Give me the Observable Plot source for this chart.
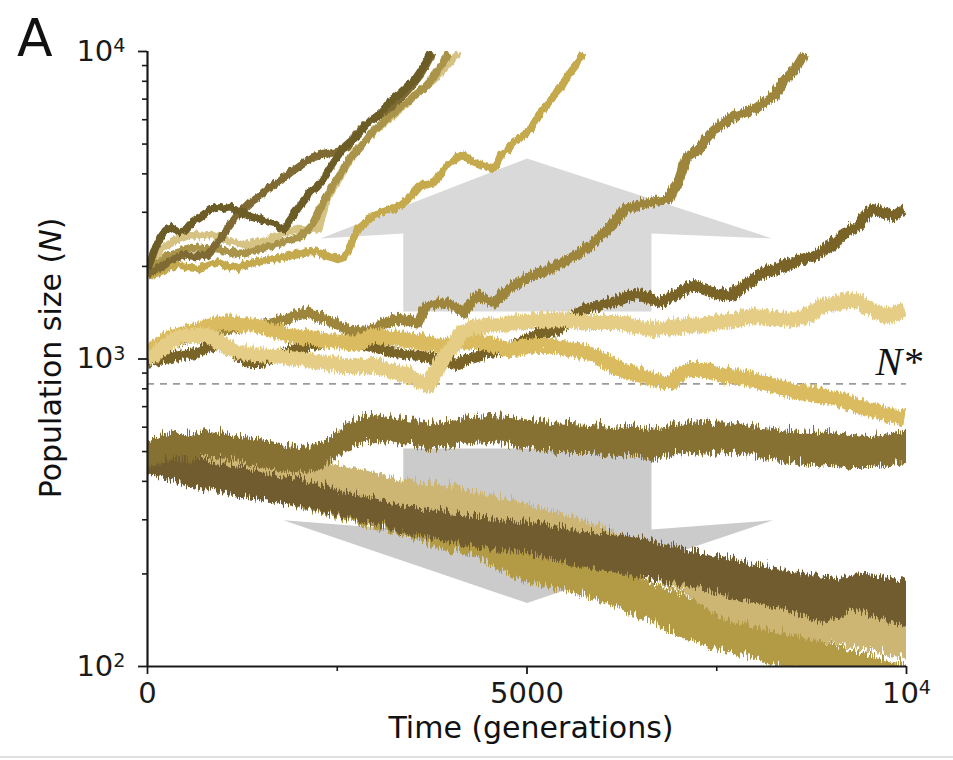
<!DOCTYPE html>
<html><head><meta charset="utf-8">
<script src="https://cdn.jsdelivr.net/npm/d3@7"></script>
<script src="https://cdn.jsdelivr.net/npm/@observablehq/plot@0.6"></script>
<style>body{margin:0;background:#fff;} svg{display:block;}</style>
</head><body><div id="chart"></div>
<script>
// ---------- data (time in generations, population size N) ----------
const nStar = [830];
const yMajor = [100, 1000, 10000];
const yExp = ["2", "3", "4"];
const yMinor = [200,300,400,500,600,700,800,900,2000,3000,4000,5000,6000,7000,8000,9000];
const xMajor = [0, 5000, 10000];
const xMinor = [2500, 7500];

// gray guide arrows (polygon vertices)
const upArrow = [[2280,2466],[5000,4487],[8230,2466],[6640,2559],[6640,1427],[3370,1427],[3370,2559]];
const downArrow = [[3370,512],[6640,512],[6640,279],[8240,299],[5000,161],[1790,299],[3370,279]];

// upper group trajectories [t, N]
const U1 = [[0,1985],[106,2339],[172,2521],[237,2657],[303,2718],[409,2617],[501,2657],[594,2821],[699,2929],[792,3040],[897,3157],[990,3110],[1095,3157],[1187,3040],[1293,2995],[1385,2929],[1491,2885],[1583,2821],[1689,2779],[1794,2657],[1873,2864],[1953,3040],[2045,3277],[2150,3532],[2230,3666],[2309,3863],[2388,4164],[2454,4421],[2546,4765],[2612,5020],[2691,5214],[2771,5413],[2863,5746],[2942,6056],[3021,6240],[3100,6527],[3180,6929],[3272,7194],[3351,7468],[3443,7866],[3522,8228],[3602,8806],[3668,9348],[3730,10000]];
const U2 = [[0,1911],[106,1969],[237,2060],[369,2155],[475,2204],[633,2171],[792,2204],[884,2339],[963,2484],[1055,2697],[1161,2929],[1253,3086],[1359,3277],[1491,3453],[1623,3666],[1755,3863],[1887,4102],[2019,4322],[2190,4590],[2322,4696],[2454,4765],[2546,4837],[2639,4947],[2718,5293],[2810,5662],[2902,5921],[3008,6193],[3114,6429],[3206,6675],[3312,7087],[3404,7468],[3496,7925],[3602,8548],[3681,9210],[3760,10000]];
const U3 = [[0,1969],[80,2123],[172,2287],[277,2392],[369,2466],[541,2559],[699,2540],[858,2559],[990,2484],[1121,2429],[1293,2375],[1464,2429],[1649,2484],[1821,2617],[1992,2677],[2124,2657],[2256,2677],[2309,2995],[2375,3402],[2454,3666],[2546,4010],[2639,4355],[2718,4765],[2810,4985],[2902,5253],[2982,5535],[3074,5832],[3166,6056],[3245,6287],[3338,6574],[3430,6929],[3509,7302],[3602,7580],[3694,7925],[3773,8228],[3866,8675],[3958,9210],[4024,9564],[4103,10000]];
const U4 = [[0,1969],[106,2060],[237,2171],[396,2253],[567,2322],[739,2305],[897,2287],[1069,2253],[1227,2220],[1385,2270],[1557,2339],[1689,2375],[1794,2429],[1913,2484],[2019,2521],[2098,2637],[2177,2779],[2256,3040],[2348,3376],[2454,3749],[2573,4164],[2678,4590],[2784,4872],[2889,5253],[2995,5618],[3100,5965],[3206,6287],[3312,6574],[3417,6929],[3522,7302],[3628,7636],[3734,8167],[3813,8675],[3892,9277],[3971,10000]];
const U5 = [[0,1911],[106,1911],[237,1969],[409,2045],[541,1999],[673,1985],[805,2045],[937,2091],[1069,2014],[1201,1985],[1319,2060],[1425,2091],[1557,2123],[1728,2139],[1913,2204],[2045,2237],[2177,2253],[2282,2220],[2388,2187],[2507,2139],[2586,2171],[2639,2253],[2705,2466],[2771,2677],[2876,2821],[2982,2973],[3114,3040],[3245,3110],[3338,3205],[3430,3351],[3522,3532],[3602,3721],[3694,3749],[3773,3806],[3866,4040],[3958,4322],[4037,4487],[4129,4659],[4208,4590],[4288,4421],[4393,4322],[4486,4259],[4565,4195],[4618,4421],[4657,4659],[4750,4837],[4829,5136],[4921,5332],[5053,5662],[5119,6056],[5185,6429],[5277,6825],[5356,7302],[5449,7752],[5541,8481],[5607,8906],[5673,9348],[5739,10000]];

// middle group trajectories [t, N]
const M1 = [[0,1050],[132,1082],[264,1131],[435,1167],[633,1211],[831,1238],[1029,1266],[1227,1285],[1425,1315],[1623,1334],[1821,1375],[1979,1417],[2111,1438],[2243,1396],[2375,1365],[2507,1315],[2639,1266],[2771,1257],[2902,1257],[3074,1315],[3245,1365],[3404,1355],[3562,1334],[3628,1438],[3694,1515],[3826,1550],[3958,1550],[4063,1493],[4169,1438],[4261,1550],[4354,1633],[4459,1585],[4565,1550],[4657,1633],[4750,1708],[4855,1773],[4961,1841],[5093,1911],[5277,1985],[5449,2091],[5620,2204],[5752,2305],[5884,2429],[6016,2617],[6148,2821],[6280,3110],[6438,3205],[6597,3277],[6728,3328],[6860,3351],[6926,3586],[6992,3806],[7058,4259],[7124,4659],[7256,4872],[7362,5253],[7467,5662],[7599,5965],[7731,6287],[7863,6429],[7995,6574],[8127,6929],[8259,7302],[8325,7752],[8391,8228],[8523,8873],[8589,9348],[8655,10000]];
const M2 = [[0,989],[145,1011],[303,1026],[475,1050],[633,1066],[805,1106],[963,1149],[1095,1082],[1227,1026],[1359,989],[1491,989],[1623,1018],[1755,1050],[1887,1082],[2019,1106],[2150,1131],[2282,1149],[2441,1167],[2612,1167],[2784,1149],[2942,1123],[3100,1090],[3272,1066],[3443,1050],[3602,1042],[3760,1018],[3905,1011],[4063,974],[4169,1004],[4261,1026],[4393,1050],[4525,1066],[4657,1082],[4789,1106],[4921,1149],[5053,1193],[5211,1238],[5383,1257],[5541,1334],[5673,1438],[5805,1493],[5937,1515],[6069,1550],[6240,1585],[6399,1645],[6544,1633],[6662,1573],[6768,1550],[6873,1609],[6992,1670],[7098,1721],[7203,1760],[7335,1721],[7467,1670],[7586,1645],[7691,1633],[7797,1708],[7916,1800],[8021,1869],[8127,1940],[8259,1985],[8391,2045],[8510,2091],[8615,2139],[8707,2171],[8787,2204],[8905,2287],[9011,2375],[9103,2484],[9182,2617],[9274,2677],[9367,2760],[9446,2929],[9538,3110],[9631,3086],[9710,3040],[9776,2995],[9842,2973],[9908,3063],[9974,3110]];
const M3 = [[0,1011],[132,1066],[264,1131],[369,1184],[475,1211],[633,1211],[792,1211],[963,1149],[1095,1090],[1227,1066],[1425,1050],[1662,1042],[1887,1026],[2111,1011],[2322,989],[2546,967],[2771,967],[2982,967],[3206,931],[3430,897],[3562,864],[3694,832],[3773,903],[3866,989],[3958,1066],[4037,1123],[4129,1238],[4261,1285],[4459,1305],[4657,1315],[4921,1334],[5145,1355],[5356,1365],[5581,1355],[5805,1334],[6016,1334],[6240,1334],[6464,1285],[6676,1266],[6900,1285],[7124,1305],[7335,1315],[7559,1334],[7784,1365],[7995,1406],[8219,1385],[8444,1365],[8707,1406],[8879,1515],[9103,1550],[9314,1585],[9433,1526],[9538,1471],[9670,1427],[9763,1406],[9868,1438],[9974,1482]];
const M4 = [[0,1066],[132,1123],[264,1184],[475,1238],[699,1275],[1003,1334],[1227,1315],[1451,1305],[1662,1257],[1887,1211],[2111,1193],[2322,1175],[2546,1158],[2771,1149],[2982,1211],[3206,1193],[3430,1175],[3641,1149],[3866,1123],[4090,1149],[4301,1175],[4525,1131],[4750,1090],[4921,1106],[5145,1123],[5356,1123],[5581,1090],[5805,1066],[6016,1004],[6240,938],[6464,904],[6676,871],[6794,851],[6900,851],[7005,904],[7124,938],[7335,938],[7559,897],[7784,884],[7995,871],[8219,838],[8444,808],[8655,790],[8879,773],[9103,750],[9314,722],[9538,695],[9763,670],[9974,651]];

// lower group: noisy bands [t, N low, N high]
const L1 = [[0,461,556],[170,475,577],[370,486,599],[570,479,585],[770,497,608],[960,490,594],[1230,475,577],[1490,461,560],[1760,447,543],[2020,434,531],[2220,443,539],[2380,468,560],[2510,497,603],[2640,523,636],[2810,543,660],[3010,556,675],[3270,543,660],[3540,531,650],[3800,515,631],[4000,535,650],[4260,543,665],[4530,547,670],[4790,535,665],[5050,523,650],[5320,511,636],[5580,504,631],[5850,504,626],[6110,493,617],[6370,497,626],[6640,482,608],[6900,497,622],[7160,508,641],[7430,500,631],[7690,504,636],[7960,493,622],[8220,482,613],[8480,475,603],[8750,464,594],[9010,468,599],[9270,457,585],[9540,457,581],[9800,468,590],[10000,475,599]];
const L2 = [[0,440,551],[370,461,560],[790,457,556],[1230,440,535],[1660,424,515],[2110,403,493],[2550,382,468],[2980,360,440],[3430,339,412],[3870,327,397],[4300,313,382],[4750,298,360],[5190,281,339],[5580,257,317],[5980,235,294],[6370,213,272],[6770,190,247],[7160,174,230],[7560,147,205],[7960,139,193],[8350,133,183],[8750,126,174],[9140,120,166],[9540,115,160],[10000,109,150]];
const L3 = [[0,434,556],[370,409,515],[790,382,479],[1230,368,461],[1660,354,434],[2110,334,412],[2550,315,382],[2980,298,366],[3430,277,339],[3870,263,327],[4300,251,315],[4750,242,306],[5190,233,298],[5810,216,283],[6240,205,277],[6680,195,263],[7120,186,247],[7560,177,233],[8000,166,221],[8440,156,211],[8880,141,203],[9100,147,198],[9310,156,205],[9540,150,203],[9760,143,198],[10000,139,195]];
const L4 = [[0,434,523],[790,388,468],[1660,354,428],[2550,310,374],[3430,272,334],[3870,247,317],[4300,235,298],[4920,195,267],[5360,183,247],[5810,173,233],[6240,158,213],[6680,141,190],[7120,126,174],[7560,115,160],[8000,109,147],[8440,102,134],[8880,96,124],[9310,96,115],[9670,96,109],[10000,96,105]];

// ---------- drawing ----------
const font = "DejaVu Sans, Verdana, sans-serif";
const ln = (data, color, w) => Plot.line(data, {x: d => d[0], y: d => d[1], stroke: color, strokeWidth: w, strokeLinejoin: "round", strokeLinecap: "butt", clip: true});
const band = (data, color) => Plot.areaY(data, {x: d => d[0], y1: d => d[1], y2: d => d[2], fill: color, clip: true});

const chart = Plot.plot({
  width: 953, height: 760,
  marginLeft: 147, marginRight: 47, marginTop: 51, marginBottom: 94,
  style: {fontFamily: font, background: "#fff", overflow: "visible", color: "#1a1a1a"},
  x: {domain: [0, 10000]},
  y: {type: "log", domain: [100, 10000]},
  marks: [
    Plot.line(upArrow, {x: d => d[0], y: d => d[1], fill: "#d9d9d9", stroke: "none"}),
    Plot.line(downArrow, {x: d => d[0], y: d => d[1], fill: "#cbcbcb", stroke: "none"}),
    Plot.ruleY(nStar, {stroke: "#9a9a9a", strokeWidth: 1.8, strokeDasharray: "7,6"}),
    // lower bands
    band(L4, "#b39a45"),
    band(L2, "#cdb673"),
    band(L3, "#6f5b2d"),
    band(L1, "#877131"),
    // middle
    ln(M2, "#7a6426", 11),
    ln(M1, "#9d853b", 10),
    ln(M4, "#dbbb5e", 15),
    ln(M3, "#e5cd86", 15),
    // upper
    ln(U5, "#c5a94d", 7.5),
    ln(U3, "#d6c383", 7.5),
    ln(U4, "#a99449", 7.5),
    ln(U2, "#7e6b30", 7.5),
    ln(U1, "#6c5b27", 7.5),
    Plot.text(nStar, {x: 9900, y: d => d, text: () => "N*", dy: -22, fontFamily: "Liberation Serif, serif", fontStyle: "italic", fontSize: 40, textAnchor: "middle", fill: "#111"}),
    // axes
    Plot.axisY({ticks: yMinor, tickSize: 5, tickFormat: () => "", strokeWidth: 1.6, label: null}),
    Plot.axisY({ticks: yMajor, tickSize: 9, tickPadding: 13, tickFormat: () => "10", fontSize: 29, strokeWidth: 1.8, label: null}),
    Plot.axisX({ticks: xMinor, tickSize: 5, tickFormat: () => "", strokeWidth: 1.6, label: null}),
    Plot.axisX({ticks: xMajor, tickSize: 8, tickPadding: 8, tickFormat: d => d === 10000 ? "10" : String(d), fontSize: 29, strokeWidth: 1.8, label: null}),
    Plot.ruleX([0], {stroke: "#1a1a1a", strokeWidth: 2.2}),
    Plot.ruleY([100], {stroke: "#1a1a1a", strokeWidth: 2.2})
  ]
});
document.getElementById("chart").appendChild(chart);

const svg = d3.select(chart);
// roughening filters that give the stochastic trajectories their noisy edges
const defs = svg.insert("defs", ":first-child");
function rough(id, freq, scale, seed) {
  const f = defs.append("filter").attr("id", id).attr("x", "-5%").attr("y", "-20%").attr("width", "110%").attr("height", "140%");
  f.append("feTurbulence").attr("type", "turbulence").attr("baseFrequency", freq).attr("numOctaves", 2).attr("seed", seed).attr("result", "n");
  f.append("feColorMatrix").attr("in", "n").attr("type", "matrix")
    .attr("values", "0 0 0 0 0.5  0 1 0 0 0  0 0 0 0 0  0 0 0 0 1").attr("result", "m");
  f.append("feDisplacementMap").attr("in", "SourceGraphic").attr("in2", "m").attr("scale", scale)
    .attr("xChannelSelector", "R").attr("yChannelSelector", "G");
}
rough("roughL", "0.45 0.03", 16, 3);
rough("roughM", "0.4 0.04", 9, 7);
rough("roughU", "0.2 0.05", 6, 11);
const areas = svg.selectAll('g[aria-label="area"]').nodes();
areas.forEach(n => d3.select(n).attr("filter", "url(#roughL)"));
const lines = svg.selectAll('g[aria-label="line"]').nodes();
lines.forEach((n, i) => {
  if (i >= 2 && i <= 5) d3.select(n).attr("filter", "url(#roughM)");
  else if (i >= 6) d3.select(n).attr("filter", "url(#roughU)");
});

// superscripts on tick labels
let yk = 0;
svg.selectAll('g[aria-label="y-axis tick label"] text').each(function() {
  const t = d3.select(this);
  if (t.text() === "10") {
    t.append("tspan").attr("dy", "-0.45em").attr("font-size", "0.66em").text(yExp[yk]);
    yk++;
  }
});
svg.selectAll('g[aria-label="x-axis tick label"] text').each(function() {
  const t = d3.select(this);
  if (t.text() === "10") t.append("tspan").attr("dy", "-0.45em").attr("font-size", "0.66em").text("4");
});
// panel letter
svg.append("text").attr("x", 17).attr("y", 56).attr("text-anchor", "start").attr("font-family", font).attr("font-size", 52).attr("fill", "#111").text("A");
// y label
const yl = svg.append("text").attr("transform", "translate(61,358) rotate(-90)").attr("text-anchor", "middle")
  .attr("font-family", font).attr("font-size", 30).attr("fill", "#111");
yl.append("tspan").text("Population size (");
yl.append("tspan").attr("font-style", "italic").text("N");
yl.append("tspan").text(")");
// x label
svg.append("text").attr("x", 531).attr("y", 738).attr("text-anchor", "middle").attr("font-family", font)
  .attr("font-size", 30).attr("fill", "#111").text("Time (generations)");
svg.append("line").attr("x1", 0).attr("x2", 953).attr("y1", 757).attr("y2", 757).attr("stroke", "#e0e0e0").attr("stroke-width", 2);
</script></body></html>
